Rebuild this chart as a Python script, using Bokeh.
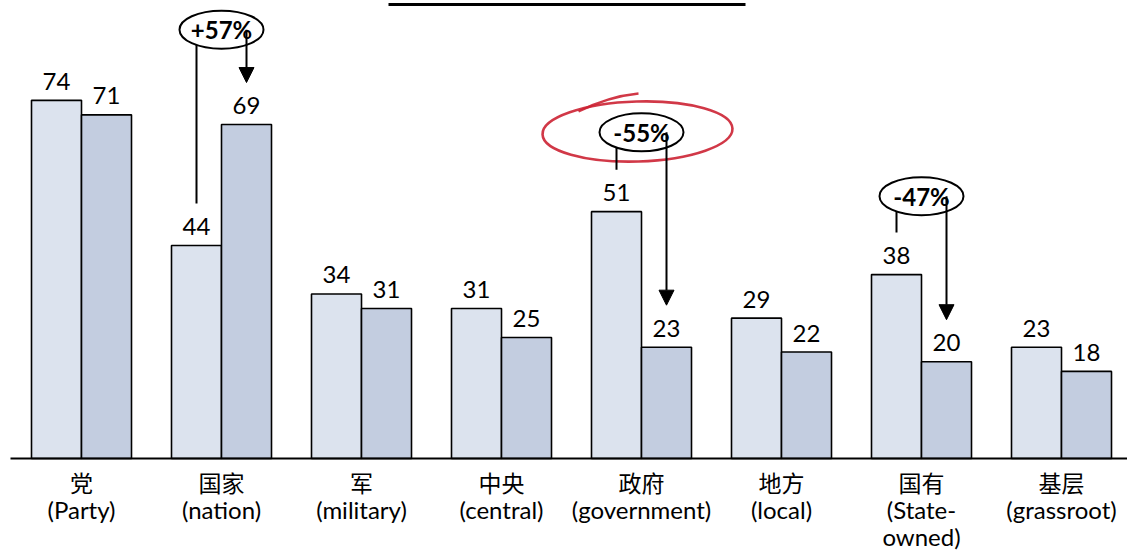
from bokeh.plotting import figure
from bokeh.models import ColumnDataSource, Range1d, Arrow, NormalHead
from bokeh.core.properties import value
from bokeh.embed import file_html
from bokeh.resources import INLINE

# ---- data ----
cats_cn = ["党", "国家", "军", "中央", "政府", "地方", "国有", "基层"]
cats_en = ["(Party)", "(nation)", "(military)", "(central)", "(government)",
           "(local)", "(State-\nowned)", "(grassroot)"]
before = [74, 44, 34, 31, 51, 29, 38, 23]
after = [71, 69, 31, 25, 23, 22, 20, 18]
ann_idx = [1, 4, 6]
ann_text = ["+57%", "-55%", "-47%"]
ann_level = [88.6, 67.4, 54.2]

# ---- geometry (pixel scale helpers) ----
PX = 140.0   # pixels per category
PY = 4.84    # pixels per value unit
W, H = 1127, 550
BASE = 458   # baseline pixel from top
LEFT0 = 81   # first category center pixel

FONT = value("Lato")
CJK = value("Noto Sans CJK SC")
LIGHT = "#DCE3EE"
DARK = "#C3CDE0"
RED = "#CC2233"

def dx(px):
    return px / PX

def dy(px):
    return px / PY

p = figure(width=W, height=H, output_backend="svg", toolbar_location=None,
           x_range=Range1d(-LEFT0 / PX, (W - LEFT0) / PX),
           y_range=Range1d(-(H - BASE) / PY, BASE / PY),
           min_border=0, min_border_left=0, min_border_right=0,
           min_border_top=0, min_border_bottom=0)
p.axis.visible = False
p.grid.visible = False
p.outline_line_color = None
p.background_fill_color = "white"
p.border_fill_color = "white"

xs = list(range(len(cats_cn)))
bw = dx(50)
src = ColumnDataSource(dict(
    xl=[x - bw / 2 for x in xs], xr=[x + bw / 2 for x in xs],
    b=before, a=after,
    bl=[str(v) for v in before], al=[str(v) for v in after],
    by=[v + dy(19) for v in before], ay=[v + dy(19) for v in after],
))

p.vbar(x="xl", top="b", width=bw, bottom=0, source=src, fill_color=LIGHT,
       line_color="black", line_width=1.6)
p.vbar(x="xr", top="a", width=bw, bottom=0, source=src, fill_color=DARK,
       line_color="black", line_width=1.6)

p.text(x="xl", y="by", text="bl", source=src, text_font=FONT,
       text_font_size="24px", text_align="center", text_baseline="middle",
       text_color="black")
p.text(x="xr", y="ay", text="al", source=src, text_font=FONT,
       text_font_size="24px", text_align="center", text_baseline="middle",
       text_color="black")

# baseline axis line
p.segment(x0=[dx(10 - LEFT0)], y0=[0], x1=[(W - LEFT0) / PX], y1=[0],
          line_color="black", line_width=2)

# category labels
cn_src = ColumnDataSource(dict(x=xs, y=[-dy(23)] * len(xs), t=cats_cn))
p.text(x="x", y="y", text="t", source=cn_src, text_font=CJK,
       text_font_size="23px", text_align="center", text_baseline="middle",
       text_color="black")
ex, ey, et = [], [], []
for i, lab in enumerate(cats_en):
    for k, line in enumerate(lab.split("\n")):
        ex.append(i)
        ey.append(-dy(51 + 27 * k))
        et.append(line)
p.text(x=ex, y=ey, text=et, text_font=FONT, text_font_size="24px",
       text_align="center", text_baseline="middle", text_color="black")

# red hand-drawn circle around -55%
p.ellipse(x=[dx(637 - LEFT0)], y=[dy(BASE - 131)], width=190, height=60,
          width_units="screen", height_units="screen", angle=0.03,
          fill_color=None, line_color=RED, line_width=2.6, line_alpha=0.9)
p.bezier(x0=[dx(578 - LEFT0)], y0=[dy(BASE - 111)],
         x1=[dx(638 - LEFT0)], y1=[dy(BASE - 93)],
         cx0=[dx(598 - LEFT0)], cy0=[dy(BASE - 101)],
         cx1=[dx(618 - LEFT0)], cy1=[dy(BASE - 95)],
         line_color=RED, line_width=2.4, line_alpha=0.9)

# change annotations
for i, txt, lev in zip(ann_idx, ann_text, ann_level):
    xl = i - bw / 2
    xr = i + bw / 2
    p.segment(x0=[xl], y0=[lev], x1=[xl], y1=[before[i] + dy(42)],
              line_color="black", line_width=2)
    p.add_layout(Arrow(end=NormalHead(size=15, fill_color="black",
                                      line_color="black", line_width=1),
                       x_start=xr, y_start=lev, x_end=xr,
                       y_end=after[i] + dy(42),
                       line_color="black", line_width=2))
    p.ellipse(x=[i], y=[lev], width=84, height=38, width_units="screen",
              height_units="screen", fill_color="white", line_color="black",
              line_width=2)
    p.text(x=[i], y=[lev], text=[txt], text_font=FONT, text_font_style="bold",
           text_font_size="24px", text_align="center", text_baseline="middle",
           text_color="black")

# clipped title underline at the top
p.segment(x0=[dx(388 - LEFT0)], y0=[dy(BASE - 4)], x1=[dx(745 - LEFT0)],
          y1=[dy(BASE - 4)], line_color="black", line_width=3)

open("out.html", "w").write(file_html(p, INLINE))
